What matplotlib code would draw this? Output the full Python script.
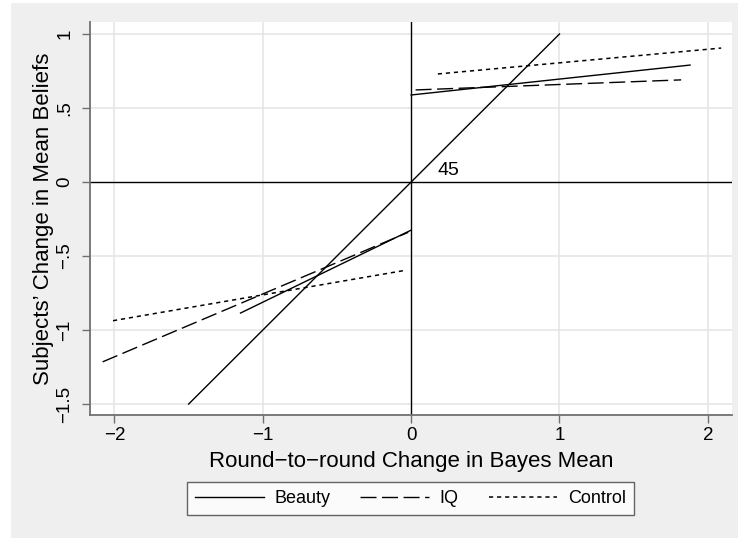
import matplotlib
matplotlib.use("Agg")
import matplotlib.pyplot as plt
from matplotlib.patches import Rectangle

plt.rcParams['font.family'] = ['Liberation Sans', 'DejaVu Sans']
plt.rcParams['lines.scale_dashes'] = False
plt.rcParams['axes.unicode_minus'] = True

# Data
diag_x = [-1.5, 1.0]
diag_y = [-1.5, 1.0]

beauty_neg_x = [-1.15, 0.0]
beauty_neg_y = [-0.885, -0.325]
beauty_pos_x = [0.0, 1.88]
beauty_pos_y = [0.588, 0.79]

iq_neg_x = [-2.08, -0.02]
iq_neg_y = [-1.215, -0.34]
iq_pos_x = [0.03, 1.82]
iq_pos_y = [0.622, 0.69]

control_neg_x = [-2.01, -0.03]
control_neg_y = [-0.937, -0.595]
control_pos_x = [0.18, 2.09]
control_pos_y = [0.73, 0.905]

xticks = [-2, -1, 0, 1, 2]
xticklabels = ['\u22122', '\u22121', '0', '1', '2']
yticks = [-1.5, -1, -0.5, 0, 0.5, 1]
yticklabels = ['\u22121.5', '\u22121', '\u2212.5', '0', '.5', '1']

fig = plt.figure(figsize=(7.38, 5.39), dpi=100)
fig.patch.set_facecolor('white')
fig.patches.append(Rectangle((11/738, 1/539), 1 - 11/738, 1 - 4/539,
                             transform=fig.transFigure, facecolor='#EFEFEF',
                             edgecolor='none', zorder=-10))

ax = fig.add_axes([90/738, 1 - 415/539, (732 - 90)/738, (415 - 22)/539])
ax.set_facecolor('white')

grid_c = '#E6E6E6'
for xv in xticks:
    if xv != 0:
        ax.axvline(xv, color=grid_c, lw=1.2, zorder=0)
for yv in yticks:
    if yv != 0:
        ax.axhline(yv, color=grid_c, lw=1.2, zorder=0)
ax.axhline(0, color='black', lw=1.0, zorder=1)
ax.axvline(0, color='black', lw=1.0, zorder=1)

lw = 1.0
dash_iq = (0, (11.5, 4))
dash_ctrl = (0, (3, 2.8))

ax.plot(diag_x, diag_y, color='black', lw=lw, zorder=3)
l1, = ax.plot(beauty_neg_x, beauty_neg_y, color='black', lw=lw, zorder=3, label='Beauty')
ax.plot(beauty_pos_x, beauty_pos_y, color='black', lw=lw, zorder=3)
l2, = ax.plot(iq_neg_x, iq_neg_y, color='black', lw=lw, ls=dash_iq, zorder=3, label='IQ')
ax.plot(iq_pos_x, iq_pos_y, color='black', lw=lw, ls=dash_iq, zorder=3)
l3, = ax.plot(control_neg_x, control_neg_y, color='black', lw=1.1, ls=dash_ctrl, zorder=3, label='Control')
ax.plot(control_pos_x, control_pos_y, color='black', lw=1.1, ls=dash_ctrl, zorder=3)

ax.text(0.175, 0.075, '45', fontsize=14, ha='left', va='center')

ax.set_xlim(-2.165, 2.163)
ax.set_ylim(-1.574, 1.081)

ax.set_xticks(xticks)
ax.set_xticklabels(xticklabels, fontsize=13.5)
ax.set_yticks(yticks)
ax.set_yticklabels(yticklabels, fontsize=13.5, rotation=90, va='center')

for s in ['top', 'right']:
    ax.spines[s].set_visible(False)
for s in ['left', 'bottom']:
    ax.spines[s].set_color('#707070')
    ax.spines[s].set_linewidth(1.3)
ax.tick_params(axis='both', length=6, width=1.0, color='#707070')
ax.tick_params(axis='y', pad=6)
ax.tick_params(axis='x', pad=3)

ax.set_xlabel('Round\u2212to\u2212round Change in Bayes Mean', fontsize=16, labelpad=5)
ax.set_ylabel('Subjects\u2019 Change in Mean Beliefs', fontsize=16, labelpad=2)

leg = fig.legend(handles=[l1, l2, l3], loc='center', bbox_to_anchor=(410.5/738, 1 - 498.5/539),
                 ncol=3, fontsize=13, frameon=True, fancybox=False, handlelength=3.8,
                 columnspacing=1.65, handletextpad=0.6, borderpad=0.45, borderaxespad=0)
leg.get_frame().set_edgecolor('#404040')
leg.get_frame().set_linewidth(1.0)
leg.get_frame().set_facecolor('white')

fig.savefig('out.png', dpi=100, facecolor=fig.get_facecolor())
